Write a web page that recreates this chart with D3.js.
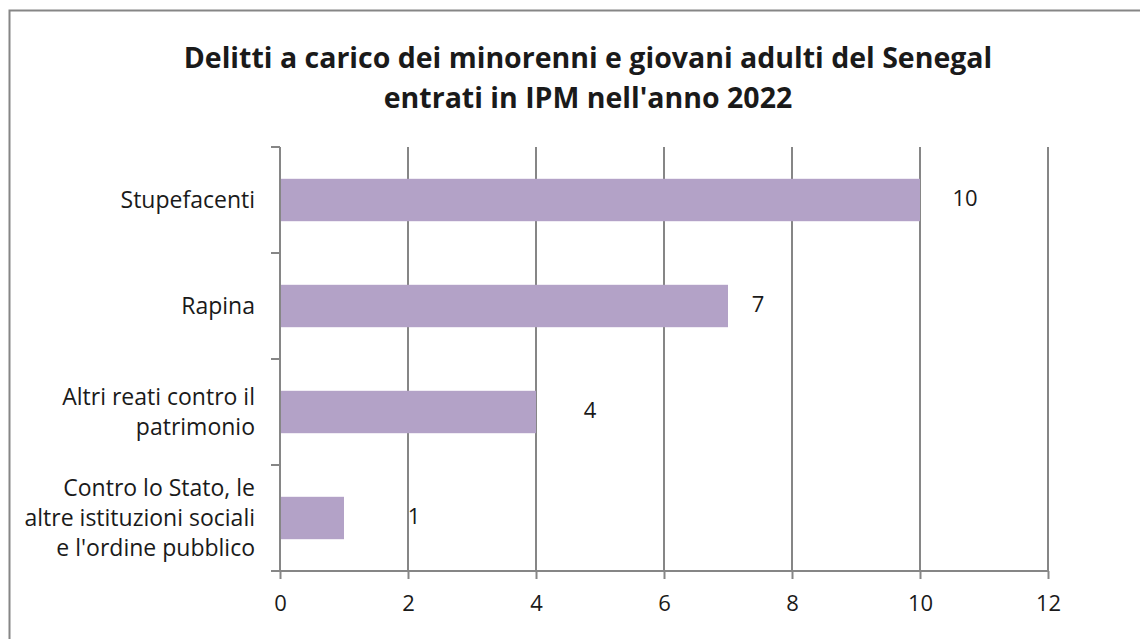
<!DOCTYPE html>
<html>
<head>
<meta charset="utf-8">
<script src="https://cdn.jsdelivr.net/npm/d3@7"></script>
<style>
  body { margin: 0; background: #fff; }
  text { font-family: "Open Sans", sans-serif; fill: #1a1a1a; font-variant-ligatures: none; }
</style>
</head>
<body>
<div id="chart"></div>
<script>
// data
var categories = [
  ["Stupefacenti"],
  ["Rapina"],
  ["Altri reati contro il", "patrimonio"],
  ["Contro lo Stato, le", "altre istituzioni sociali", "e l'ordine pubblico"]
];
var values = [10, 7, 4, 1];
var xTicks = [0, 2, 4, 6, 8, 10, 12];
var titleLines = ["Delitti a carico dei minorenni e giovani adulti del Senegal", "entrati in IPM nell'anno 2022"];

// label nudges, px (labels sit where the original put them)
var labelDx = [45, 30, 54, 70];

var W = 1140, H = 639;
var m = {top: 147, right: 92, bottom: 68, left: 280};
var w = W - m.left - m.right, h = H - m.top - m.bottom;

var svg = d3.select("#chart").append("svg")
  .attr("width", W).attr("height", H);

// outer frame
svg.append("rect")
  .attr("x", 9.5).attr("y", 10.5)
  .attr("width", W + 20).attr("height", H + 20)
  .attr("fill", "none").attr("stroke", "#868686").attr("stroke-width", 2);

svg.append("text")
  .attr("x", 588).attr("y", 68)
  .attr("text-anchor", "middle")
  .style("font-size", "28.5px").style("font-weight", "bold")
  .selectAll("tspan").data(titleLines).enter().append("tspan")
  .attr("x", 588).attr("dy", function(d, i) { return i ? 40 : 0; })
  .text(function(d) { return d; });

var g = svg.append("g").attr("transform", "translate(" + m.left + "," + m.top + ")");

var x = d3.scaleLinear().domain([0, 12]).range([0, w]);
var y = d3.scaleBand().domain(d3.range(categories.length)).range([0, h]).paddingInner(0.6).paddingOuter(0.3);
var yEdges = d3.scaleLinear().domain([0, categories.length]).range([0, h]);

// gridlines
g.selectAll(".grid").data(xTicks.slice(1)).enter().append("line")
  .attr("x1", function(d) { return x(d); }).attr("x2", function(d) { return x(d); })
  .attr("y1", 0).attr("y2", h)
  .attr("stroke", "#868686").attr("stroke-width", 2);

// bars
g.selectAll(".bar").data(values).enter().append("rect")
  .attr("x", 0)
  .attr("y", function(d, i) { return y(i); })
  .attr("width", function(d) { return x(d); })
  .attr("height", y.bandwidth())
  .attr("fill", "#b3a2c7");

// value labels
g.selectAll(".val").data(values).enter().append("text")
  .attr("x", function(d, i) { return x(d) + labelDx[i]; })
  .attr("y", function(d, i) { return y(i) + y.bandwidth() / 2 + 6; })
  .attr("text-anchor", "middle")
  .style("font-size", "22px")
  .text(function(d) { return d; });

// y axis line + ticks
g.append("line").attr("x1", 0).attr("x2", 0).attr("y1", 0).attr("y2", h)
  .attr("stroke", "#868686").attr("stroke-width", 2);
g.selectAll(".yt").data(d3.range(categories.length + 1)).enter().append("line")
  .attr("x1", -9).attr("x2", 0)
  .attr("y1", function(d) { return yEdges(d); }).attr("y2", function(d) { return yEdges(d); })
  .attr("stroke", "#868686").attr("stroke-width", 2);

// x axis
var xAxis = g.append("g").attr("transform", "translate(0," + h + ")")
  .call(d3.axisBottom(x).tickValues(xTicks).tickSize(8).tickPadding(16));
xAxis.select(".domain").attr("stroke", "#868686").attr("stroke-width", 2).attr("d", "M-9,0H" + w);
xAxis.selectAll(".tick line").attr("stroke", "#868686").attr("stroke-width", 2);
xAxis.selectAll(".tick text").style("font-size", "22px").attr("fill", "#1a1a1a").style("font-family", "'Open Sans', sans-serif");

// category labels
g.selectAll(".cat").data(categories).enter().append("text")
  .attr("text-anchor", "end")
  .style("font-size", "23px")
  .each(function(lines, i) {
    var cy = y(i) + y.bandwidth() / 2;
    var lh = 30;
    var y0 = cy - (lines.length - 1) * lh / 2 + 8;
    d3.select(this).selectAll("tspan").data(lines).enter().append("tspan")
      .attr("x", -25)
      .attr("y", function(d, k) { return y0 + k * lh; })
      .text(function(d) { return d; });
  });
</script>
</body>
</html>
